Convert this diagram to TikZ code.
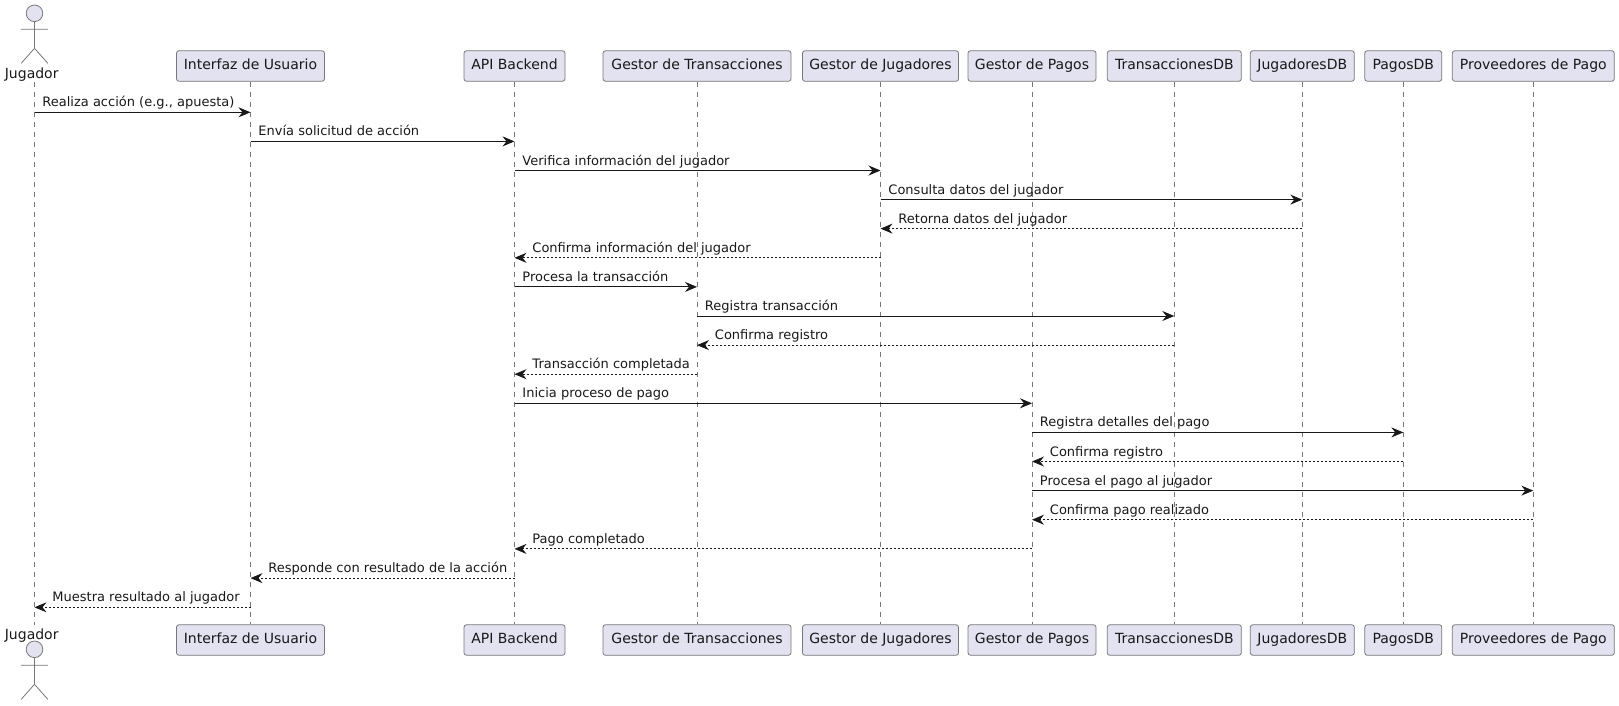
\documentclass[tikz,border=0pt]{standalone}
\usepackage{fontspec}
\setmainfont{DejaVu Sans}
\usetikzlibrary{positioning, arrows.meta}
\definecolor{boxfill}{HTML}{E2E2F0}
\definecolor{ink}{HTML}{181818}
\definecolor{lineink}{HTML}{777777}

\begin{document}
\begin{tikzpicture}[
    x=1pt, y=-1pt,
    lifeline/.style={draw=lineink, line width=0.7pt, dash pattern=on 5pt off 5pt},
    entity/.style={draw=lineink, line width=0.8pt, fill=boxfill, rounded corners=2.5pt, text=ink,
                   font=\fontsize{14}{16}\selectfont, inner xsep=0pt, inner ysep=0pt,
                   minimum height=30.5pt, text height=10.5pt, text depth=3pt},
    actorlabel/.style={inner sep=0pt, text=ink, font=\fontsize{14}{16}\selectfont,
                       text height=10.5pt, text depth=3.5pt},
    msg/.style={draw=ink, line width=0.9pt, -{Stealth[length=12pt, width=10pt, inset=4pt]}},
    ret/.style={msg, dash pattern=on 2pt off 2pt},
    fwdlabel/.style={pos=0, anchor=base west, inner sep=0pt, xshift=7.5pt, yshift=5.5pt,
                     text=ink, font=\fontsize{13}{15}\selectfont},
    retlabel/.style={pos=1, anchor=base west, inner sep=0pt, xshift=17.5pt, yshift=5.5pt,
                     text=ink, font=\fontsize{13}{15}\selectfont},
    actorfig/.pic={
        \draw[draw=lineink, line width=0.8pt, fill=boxfill] (0,0) circle (8.3pt);
        \draw[draw=lineink, line width=0.8pt] (0,8.3) -- (0,35)
            (-13.3,16) -- (13.3,16)
            (-13.3,50) -- (0,35) -- (13.3,50);
    }
]
    \useasboundingbox (0,0) rectangle (1619,705);

    % --- Entities ---
    \node[actorlabel] (jugT) at (31.7,  75.2) {Jugador};
    \node[entity, minimum width=148pt] (uiT)    at (250.5, 66) {Interfaz de Usuario};
    \node[entity, minimum width=101pt] (apiT)   at (514.5, 66) {API Backend};
    \node[entity, minimum width=188pt] (gtxT)   at (697,   66) {Gestor de Transacciones};
    \node[entity, minimum width=156pt] (gjuT)   at (880.5, 66) {Gestor de Jugadores};
    \node[entity, minimum width=128pt] (gpaT)   at (1032,  66) {Gestor de Pagos};
    \node[entity, minimum width=134pt] (txdbT)  at (1174.3,66) {TransaccionesDB};
    \node[entity, minimum width=104pt] (judbT)  at (1302.3,66) {JugadoresDB};
    \node[entity, minimum width=77pt]  (padbT)  at (1403.3,66) {PagosDB};
    \node[entity, minimum width=162pt] (provT)  at (1533.3,66) {Proveedores de Pago};

    \node[actorlabel] (jugB) at (31.7,  635.5) {Jugador};
    \node[entity, minimum width=148pt] (uiB)    at (250.5, 640) {Interfaz de Usuario};
    \node[entity, minimum width=101pt] (apiB)   at (514.5, 640) {API Backend};
    \node[entity, minimum width=188pt] (gtxB)   at (697,   640) {Gestor de Transacciones};
    \node[entity, minimum width=156pt] (gjuB)   at (880.5, 640) {Gestor de Jugadores};
    \node[entity, minimum width=128pt] (gpaB)   at (1032,  640) {Gestor de Pagos};
    \node[entity, minimum width=134pt] (txdbB)  at (1174.3,640) {TransaccionesDB};
    \node[entity, minimum width=104pt] (judbB)  at (1302.3,640) {JugadoresDB};
    \node[entity, minimum width=77pt]  (padbB)  at (1403.3,640) {PagosDB};
    \node[entity, minimum width=162pt] (provB)  at (1533.3,640) {Proveedores de Pago};

    \pic at (34.5, 13.3) {actorfig};
    \pic at (34.5, 649.3) {actorfig};

    % --- Lifelines ---
    \coordinate (jugS) at (34.5, 82);
    \coordinate (jugE) at (34.5, 625);
    \draw[lifeline] (jugS)  -- (jugE);
    \draw[lifeline] (uiT)   -- (uiB);
    \draw[lifeline] (apiT)  -- (apiB);
    \draw[lifeline] (gtxT)  -- (gtxB);
    \draw[lifeline] (gjuT)  -- (gjuB);
    \draw[lifeline] (gpaT)  -- (gpaB);
    \draw[lifeline] (txdbT) -- (txdbB);
    \draw[lifeline] (judbT) -- (judbB);
    \draw[lifeline] (padbT) -- (padbB);
    \draw[lifeline] (provT) -- (provB);

    % --- Rows ---
    \coordinate (r1)  at (0,112.3);
    \coordinate (r2)  at (0,141.4);
    \coordinate (r3)  at (0,170.5);
    \coordinate (r4)  at (0,199.6);
    \coordinate (r5)  at (0,228.6);
    \coordinate (r6)  at (0,257.8);
    \coordinate (r7)  at (0,286.9);
    \coordinate (r8)  at (0,316.0);
    \coordinate (r9)  at (0,345.1);
    \coordinate (r10) at (0,374.2);
    \coordinate (r11) at (0,403.3);
    \coordinate (r12) at (0,432.4);
    \coordinate (r13) at (0,461.5);
    \coordinate (r14) at (0,490.6);
    \coordinate (r15) at (0,519.7);
    \coordinate (r16) at (0,548.9);
    \coordinate (r17) at (0,578.1);
    \coordinate (r18) at (0,607.3);

    % --- Messages ---
    \draw[msg] (jugS |- r1) -- (uiT |- r1)
        node[fwdlabel] {Realiza acción (e.g., apuesta)};

    \draw[msg] (uiT |- r2) -- (apiT |- r2)
        node[fwdlabel] {Envía solicitud de acción};

    \draw[msg] (apiT |- r3) -- (gjuT |- r3)
        node[fwdlabel] {Verifica información del jugador};

    \draw[msg] (gjuT |- r4) -- (judbT |- r4)
        node[fwdlabel] {Consulta datos del jugador};

    \draw[ret] (judbT |- r5) -- (gjuT |- r5)
        node[retlabel] {Retorna datos del jugador};

    \draw[ret] (gjuT |- r6) -- (apiT |- r6)
        node[retlabel] {Confirma información del jugador};

    \draw[msg] (apiT |- r7) -- (gtxT |- r7)
        node[fwdlabel] {Procesa la transacción};

    \draw[msg] (gtxT |- r8) -- (txdbT |- r8)
        node[fwdlabel] {Registra transacción};

    \draw[ret] (txdbT |- r9) -- (gtxT |- r9)
        node[retlabel] {Confirma registro};

    \draw[ret] (gtxT |- r10) -- (apiT |- r10)
        node[retlabel] {Transacción completada};

    \draw[msg] (apiT |- r11) -- (gpaT |- r11)
        node[fwdlabel] {Inicia proceso de pago};

    \draw[msg] (gpaT |- r12) -- (padbT |- r12)
        node[fwdlabel] {Registra detalles del pago};

    \draw[ret] (padbT |- r13) -- (gpaT |- r13)
        node[retlabel] {Confirma registro};

    \draw[msg] (gpaT |- r14) -- (provT |- r14)
        node[fwdlabel] {Procesa el pago al jugador};

    \draw[ret] (provT |- r15) -- (gpaT |- r15)
        node[retlabel] {Confirma pago realizado};

    \draw[ret] (gpaT |- r16) -- (apiT |- r16)
        node[retlabel] {Pago completado};

    \draw[ret] (apiT |- r17) -- (uiT |- r17)
        node[retlabel] {Responde con resultado de la acción};

    \draw[ret] (uiT |- r18) -- (jugS |- r18)
        node[retlabel] {Muestra resultado al jugador};
\end{tikzpicture}
\end{document}
